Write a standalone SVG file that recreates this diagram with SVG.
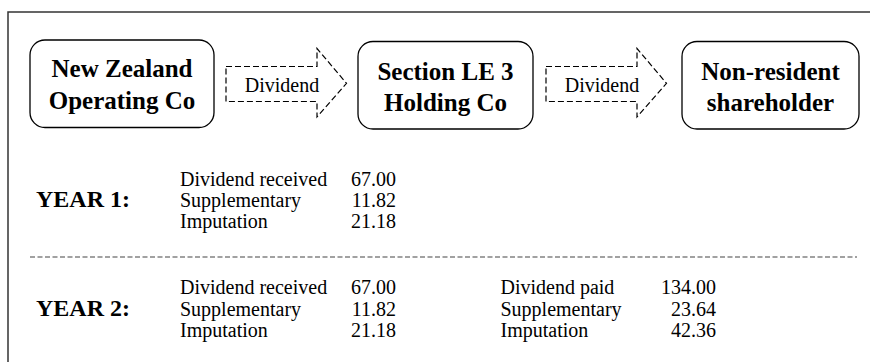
<svg xmlns="http://www.w3.org/2000/svg" width="870" height="362" viewBox="0 0 870 362">
  <style>
    .frame { fill: none; stroke: #333; stroke-width: 1.5; }
    .box { fill: #fff; stroke: #000; stroke-width: 1.3; }
    .arrow { fill: none; stroke: #000; stroke-width: 1.2; stroke-dasharray: 6 3; }
    .serif { font-family: "Liberation Serif", "Times New Roman", serif; fill: #000; }
    .hdr { font-weight: bold; font-size: 25px; text-anchor: middle; }
    .flowtxt { font-size: 20px; text-anchor: middle; }
    .year { font-weight: bold; font-size: 24px; }
    .row { font-size: 20px; }
    .num { text-anchor: end; }
    .sep { stroke: #444; stroke-width: 1.2; stroke-dasharray: 5 2.5; }
  </style>
  <rect width="870" height="362" fill="#fff"/>

  <!-- open frame: top and left edges -->
  <path class="frame" d="M8,362 V12 H870"/>

  <g id="nz-operating-co">
    <rect class="box" x="30" y="40" width="184" height="87.5" rx="15" ry="15"/>
    <g class="serif hdr">
      <text x="122" y="77">New Zealand</text>
      <text x="122" y="108.5">Operating Co</text>
    </g>
  </g>

  <g id="le3-holding-co">
    <rect class="box" x="358" y="41.5" width="175" height="87.5" rx="15" ry="15"/>
    <g class="serif hdr">
      <text x="445.5" y="79.5">Section LE 3</text>
      <text x="445.5" y="110.5">Holding Co</text>
    </g>
  </g>

  <g id="non-resident-shareholder">
    <rect class="box" x="682" y="41.5" width="177" height="87.5" rx="15" ry="15"/>
    <g class="serif hdr">
      <text x="770.5" y="79.5">Non-resident</text>
      <text x="770.5" y="110.5">shareholder</text>
    </g>
  </g>

  <g id="connectors">
    <g id="dividend-1">
      <path class="arrow" d="M226,66.5 H317 V48.5 L346.5,83.3 L317,117 V101.5 H226 Z"/>
      <g class="serif flowtxt"><text x="282" y="92">Dividend</text></g>
    </g>
    <g id="dividend-2">
      <path class="arrow" d="M546,66.5 H637 V48.5 L666.5,83.3 L637,117 V101.5 H546 Z"/>
      <g class="serif flowtxt"><text x="602" y="92">Dividend</text></g>
    </g>
  </g>

  <g id="year-1" class="serif">
    <text class="year" x="36" y="207">YEAR 1:</text>
    <text class="row" x="180" y="186">Dividend received</text>
    <text class="row" x="180" y="207">Supplementary</text>
    <text class="row" x="180" y="228">Imputation</text>
    <text class="row num" x="396" y="186">67.00</text>
    <text class="row num" x="396" y="207">11.82</text>
    <text class="row num" x="396" y="228">21.18</text>
  </g>

  <line class="sep" x1="30" y1="257" x2="857" y2="257"/>

  <g id="year-2" class="serif">
    <text class="year" x="36" y="315.5">YEAR 2:</text>
    <text class="row" x="180" y="294">Dividend received</text>
    <text class="row" x="180" y="315.5">Supplementary</text>
    <text class="row" x="180" y="337">Imputation</text>
    <text class="row num" x="396" y="294">67.00</text>
    <text class="row num" x="396" y="315.5">11.82</text>
    <text class="row num" x="396" y="337">21.18</text>
    <text class="row" x="500.5" y="294">Dividend paid</text>
    <text class="row" x="500.5" y="315.5">Supplementary</text>
    <text class="row" x="500.5" y="337">Imputation</text>
    <text class="row num" x="716" y="294">134.00</text>
    <text class="row num" x="716" y="315.5">23.64</text>
    <text class="row num" x="716" y="337">42.36</text>
  </g>
</svg>
